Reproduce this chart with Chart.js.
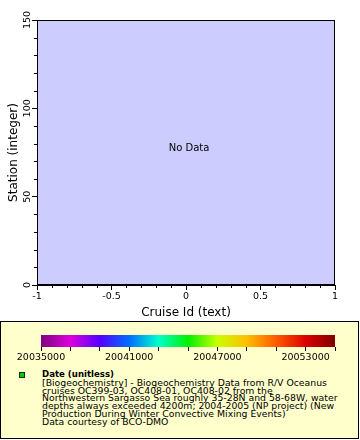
<!DOCTYPE html>
<html><head><meta charset="utf-8">
<script src="https://cdn.jsdelivr.net/npm/chart.js@4.4.1/dist/chart.umd.min.js"></script>
<style>
html,body{margin:0;padding:0;background:#fff;}
body{width:360px;height:440px;position:relative;overflow:hidden;font-family:"DejaVu Sans",sans-serif;}
#main{position:absolute;left:0;top:0;}
#legend{position:absolute;left:0;top:321px;width:359px;height:118px;box-sizing:border-box;border:1px solid #000;background:#ffffcc;}
#cbar{position:absolute;left:0;top:325px;}
#swatch{position:absolute;left:19px;top:372px;width:6px;height:6px;box-sizing:border-box;border:1px solid #003300;background:#00cc00;}
#ltext{position:absolute;left:42px;top:370px;font-size:9.3px;line-height:7.8px;color:#000;white-space:nowrap;}
#ltext b{font-weight:bold;font-size:8.6px;}
</style></head>
<body>
<div id="legend"></div>
<canvas id="main" width="360" height="320"></canvas>
<canvas id="cbar" width="360" height="42"></canvas>
<div id="swatch"></div>
<div id="ltext"><b>Date (unitless)</b><br>[Biogeochemistry] - Biogeochemistry Data from R/V Oceanus<br>cruises OC399-03, OC408-01, OC408-02 from the<br>Northwestern Sargasso Sea roughly 35-28N and 58-68W, water<br>depths always exceeded 4200m; 2004-2005 (NP project) (New<br>Production During Winter Convective Mixing Events)<br>Data courtesy of BCO-DMO</div>
<script>
// ---- data ----
const xTicks = [-1, -0.5, 0, 0.5, 1];
const xMinorTicks = [-0.9,-0.8,-0.7,-0.6,-0.4,-0.3,-0.2,-0.1,0.1,0.2,0.3,0.4,0.6,0.7,0.8,0.9];
const yTicks = [0, 50, 100, 150];
const yMinorTicks = [10,20,30,40,60,70,80,90,110,120,130,140];
const points = []; // No Data
const cbarRange = [20035000, 20055000];
const cbarLabels = [20035000, 20041000, 20047000, 20053000];
const cbarStops = [
  [0.0,'rgb(128,0,128)'],[0.1,'rgb(220,0,220)'],[0.2,'rgb(85,0,255)'],[0.3,'rgb(0,110,255)'],
  [0.4,'rgb(0,255,205)'],[0.5,'rgb(0,240,0)'],[0.6,'rgb(200,255,0)'],[0.7,'rgb(255,190,0)'],
  [0.8,'rgb(255,90,0)'],[0.9,'rgb(220,0,0)'],[1.0,'rgb(128,0,0)']
];

const FONT = '"DejaVu Sans", sans-serif';
Chart.defaults.font.family = FONT;
Chart.defaults.color = '#000';

const framePlugin = {
  id:'frame',
  beforeDraw(chart){
    const a = chart.chartArea, c = chart.ctx;
    c.save(); c.fillStyle = '#ccccff';
    c.fillRect(a.left, a.top, a.right-a.left, a.bottom-a.top); c.restore();
  },
  afterDraw(chart){
    const a = chart.chartArea, c = chart.ctx;
    const xs = chart.scales.x, ys = chart.scales.y;
    c.save();
    c.strokeStyle = '#000'; c.lineWidth = 1;
    c.strokeRect(a.left+0.5, a.top+0.5, a.right-a.left-1, a.bottom-a.top-1);
    c.beginPath();
    xMinorTicks.forEach(v => { const p = Math.round(xs.getPixelForValue(v))+0.5; c.moveTo(p, a.bottom); c.lineTo(p, a.bottom+3); });
    yMinorTicks.forEach(v => { const p = Math.round(ys.getPixelForValue(v))+0.5; c.moveTo(a.left, p); c.lineTo(a.left-3, p); });
    c.stroke();
    // rotated y tick labels
    c.fillStyle = '#000'; c.font = '9.5px ' + FONT;
    c.textAlign = 'center'; c.textBaseline = 'alphabetic';
    yTicks.forEach(v => {
      const p = ys.getPixelForValue(v);
      c.save(); c.translate(a.left-7, p); c.rotate(-Math.PI/2);
      c.fillText(String(v), 0, 0); c.restore();
    });
    if (points.length === 0) {
      c.font = '10px ' + FONT; c.textAlign='center'; c.textBaseline='middle';
      c.fillText('No Data', (a.left+a.right)/2 + 3, (a.top+a.bottom)/2 - 4);
    }
    c.restore();
  }
};

new Chart(document.getElementById('main'), {
  type:'scatter',
  data:{datasets:[{data:points, backgroundColor:'#00cc00', pointRadius:2}]},
  options:{
    responsive:false, animation:false, devicePixelRatio:1,
    layout:{padding:{left:0, top:20, right:25, bottom:0}},
    plugins:{legend:{display:false}, tooltip:{enabled:false}},
    scales:{
      x:{type:'linear', min:-1, max:1,
        afterBuildTicks(s){ s.ticks = xTicks.map(v=>({value:v})); },
        afterFit(s){ s.height = 35; },
        grid:{drawOnChartArea:false, tickLength:5, color:'#000'},
        border:{color:'#000'},
        ticks:{font:{size:9.5}, padding:1, maxRotation:0, color:'#000', callback(v){ return String(v); }},
        title:{display:true, text:'Cruise Id (text)', font:{size:12}, color:'#000', padding:{top:3,bottom:0}}
      },
      y:{type:'linear', min:0, max:150,
        afterBuildTicks(s){ s.ticks = yTicks.map(v=>({value:v})); },
        afterFit(s){ s.width = 37; },
        grid:{drawOnChartArea:false, tickLength:5, color:'#000'},
        border:{color:'#000'},
        ticks:{display:false},
        title:{display:true, text:'Station (integer)', font:{size:12}, color:'#000', padding:{top:7,bottom:0}}
      }
    }
  },
  plugins:[framePlugin]
});

new Chart(document.getElementById('cbar'), {
  type:'bar',
  data:{labels:[''], datasets:[{data:[cbarRange], borderWidth:0,
    backgroundColor(ctx){
      const a = ctx.chart.chartArea; if(!a) return '#888';
      const g = ctx.chart.ctx.createLinearGradient(a.left,0,a.right,0);
      cbarStops.forEach(s=>g.addColorStop(s[0], s[1])); return g;
    }, barPercentage:1, categoryPercentage:1}]},
  options:{
    indexAxis:'y', responsive:false, animation:false, devicePixelRatio:1,
    layout:{padding:{left:41, top:10, right:25, bottom:0}},
    plugins:{legend:{display:false}, tooltip:{enabled:false}},
    scales:{
      x:{type:'linear', min:cbarRange[0], max:cbarRange[1],
        afterFit(s){ s.height = 20; },
        grid:{drawOnChartArea:false, tickLength:4, color:'#000'},
        border:{display:false},
        ticks:{stepSize:2000, autoSkip:false, maxRotation:0, font:{size:9.5}, padding:1, color:'#000',
          callback(v){ return cbarLabels.includes(v) ? String(v) : ''; }}
      },
      y:{display:false}
    }
  }
});
</script>
</body></html>
